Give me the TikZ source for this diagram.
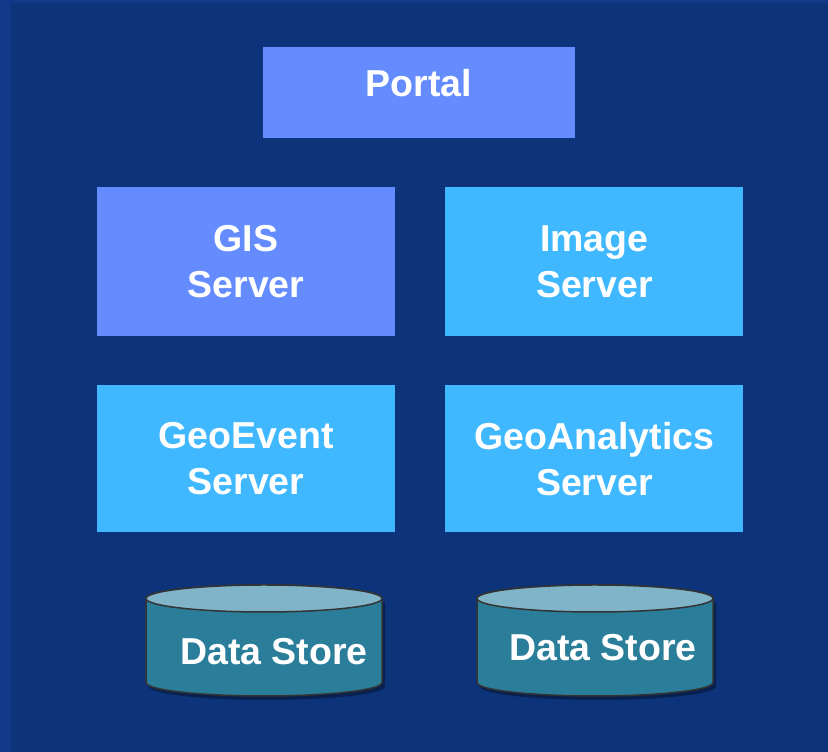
\documentclass[tikz,border=0pt]{standalone}
\usepackage{fontspec}
\setmainfont{Liberation Sans}
\usetikzlibrary{positioning}
\definecolor{bgblue}{HTML}{0D347A}
\definecolor{edgeblue}{HTML}{12388A}
\definecolor{portalblue}{HTML}{648CFF}
\definecolor{serverblue}{HTML}{40B8FF}
\definecolor{storeside}{HTML}{2A7E9A}
\definecolor{storetop}{HTML}{80B4C8}
\definecolor{storeline}{HTML}{333333}
\tikzset{
	srvbox/.style={rectangle, inner sep=0pt, text=white, align=center,
		font=\fontsize{37.5}{46}\selectfont\bfseries},
	storetext/.style={text=white, inner sep=0pt,
		font=\fontsize{37.5}{46}\selectfont\bfseries},
	storebody/.style={draw=storeline, line width=1.5pt, fill=storeside},
	storecap/.style={draw=storeline, line width=1.5pt, fill=storetop},
}
% cylinder: centre x, y of top ellipse
\newcommand\datastore[2]{%
	\fill[black, opacity=0.35] (#1-115,#2-4) -- (#1-115,#2-88) arc (180:360:118 and 13.5) -- (#1+121,#2-4) -- cycle;
	\draw[storebody] (#1-118,#2) -- (#1-118,#2-84) arc (180:360:118 and 13.5) -- (#1+118,#2) arc (0:180:118 and 13.5) -- cycle;
	\draw[storecap] (#1,#2) ellipse [x radius=118, y radius=13.5];
}

\begin{document}
\begin{tikzpicture}[x=1pt, y=1pt]
		%%%%% BACKGROUND %%%%%
		\useasboundingbox (0, 0) rectangle (828, 752);
		\fill[edgeblue] (0, 0) rectangle (828, 752);
		\fill[bgblue] (11, 0) rectangle (828, 749);
		
		%%%%% SERVERS %%%%%
		\node[srvbox, fill=portalblue, minimum width=298pt, minimum height=149pt] (gis) at (246, 490.5) {GIS\\Server};
		\node[srvbox, fill=serverblue, minimum width=298pt, minimum height=149pt, right=50pt of gis] (image) {Image\\Server};
		\node[srvbox, fill=serverblue, minimum width=298pt, minimum height=147pt, below=49pt of gis] (geoevent) {GeoEvent\\Server};
		\node[srvbox, fill=serverblue, minimum width=298pt, minimum height=147pt, below=49pt of image] (geoanalytics) {GeoAnalytics\\Server};
		
		\node[srvbox, fill=portalblue, minimum width=312pt, minimum height=91pt, text depth=20pt] (portal) at (419, 659.5) {Portal};
		
		%%%%% DATA STORES %%%%%
		\datastore{264}{153.5}
		\datastore{595}{153.5}
		\node[storetext] (store1) at (274, 100.5) {Data Store};
		\node[storetext] (store2) at (603, 104) {Data Store};
		
		%%%%% END %%%%%
	\end{tikzpicture}
\end{document}
